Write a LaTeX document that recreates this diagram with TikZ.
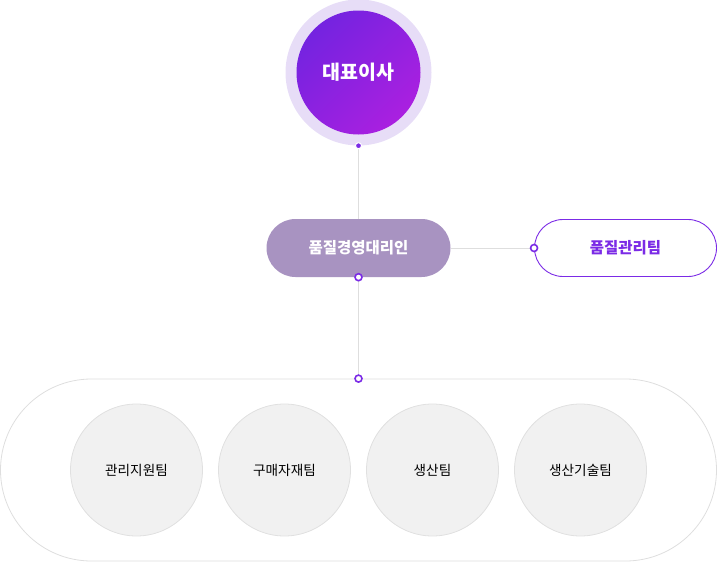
\documentclass[tikz,border=0pt]{standalone}
\usepackage{fontspec}
\setmainfont{Noto Sans CJK KR}
\usetikzlibrary{positioning}
\definecolor{ringlav}{HTML}{E7DDF7}
\definecolor{ceotop}{HTML}{7423E0}
\definecolor{ceobot}{HTML}{AA20E0}
\definecolor{pilllav}{HTML}{A893C1}
\definecolor{mark}{HTML}{7B2BE6}
\definecolor{linegray}{HTML}{DEDEDE}
\definecolor{teamfill}{HTML}{F1F1F1}
\definecolor{teamline}{HTML}{E0E0E0}

\begin{document}
\begin{tikzpicture}[x=1pt, y=-1pt, on grid,
    ring/.style={circle, fill=ringlav, minimum size=146pt, inner sep=0pt},
    ceobox/.style={circle, top color=ceotop, bottom color=ceobot, shading angle=45,
      minimum size=124pt, inner sep=0pt, text=white, font=\fontsize{19.5}{22}\selectfont\bfseries},
    pill/.style={rectangle, rounded corners=29pt, fill=pilllav, minimum width=184pt,
      minimum height=58pt, text=white, font=\fontsize{15.5}{18}\selectfont\bfseries},
    teampill/.style={rectangle, rounded corners=28.5pt, draw=mark, line width=0.9pt, fill=white,
      minimum width=182pt, minimum height=57pt, text=mark, font=\fontsize{15.5}{18}\selectfont\bfseries},
    group/.style={rectangle, rounded corners=91pt, draw=linegray, line width=0.8pt,
      minimum width=716pt, minimum height=182pt},
    team/.style={circle, fill=teamfill, draw=teamline, line width=0.8pt, minimum size=132pt,
      inner sep=0pt, font=\fontsize{13.6}{16}\selectfont},
    conn/.style={draw=linegray, line width=0.8pt},
    dotfull/.style={circle, fill=mark, draw=white, line width=1pt, minimum size=6pt, inner sep=0pt},
    dotopen/.style={circle, fill=white, draw=mark, line width=1.6pt, minimum size=7pt, inner sep=0pt}]
  \useasboundingbox (0,0) rectangle (718,562);

  \node[ring] (ceo) at (358.5,72.5) {};
  \node[ceobox] (ceoin) at (ceo) {대표이사};
  \node[pill, below=175.5pt of ceo] (qm) {품질경영대리인};
  \node[teampill, right=267pt of qm] (qc) {품질관리팀};
  \node[group, below=222pt of qm] (teams) {};

  \node[team, left=74pt of teams] (buy) {구매자재팀};
  \node[team, left=148pt of buy] (admin) {관리지원팀};
  \node[team, right=74pt of teams] (prod) {생산팀};
  \node[team, right=148pt of prod] (tech) {생산기술팀};

  \draw[conn] (ceo.south) -- (qm.north);
  \draw[conn] (qm.east) -- (qc.west);
  \draw[conn] (qm.south) -- (teams.north);

  \node[dotfull] (d1) at (ceo.south) {};
  \node[dotopen] (d2) at (qm.south) {};
  \node[dotopen] (d3) at (qc.west) {};
  \node[dotopen] (d4) at (teams.north) {};
\end{tikzpicture}
\end{document}
